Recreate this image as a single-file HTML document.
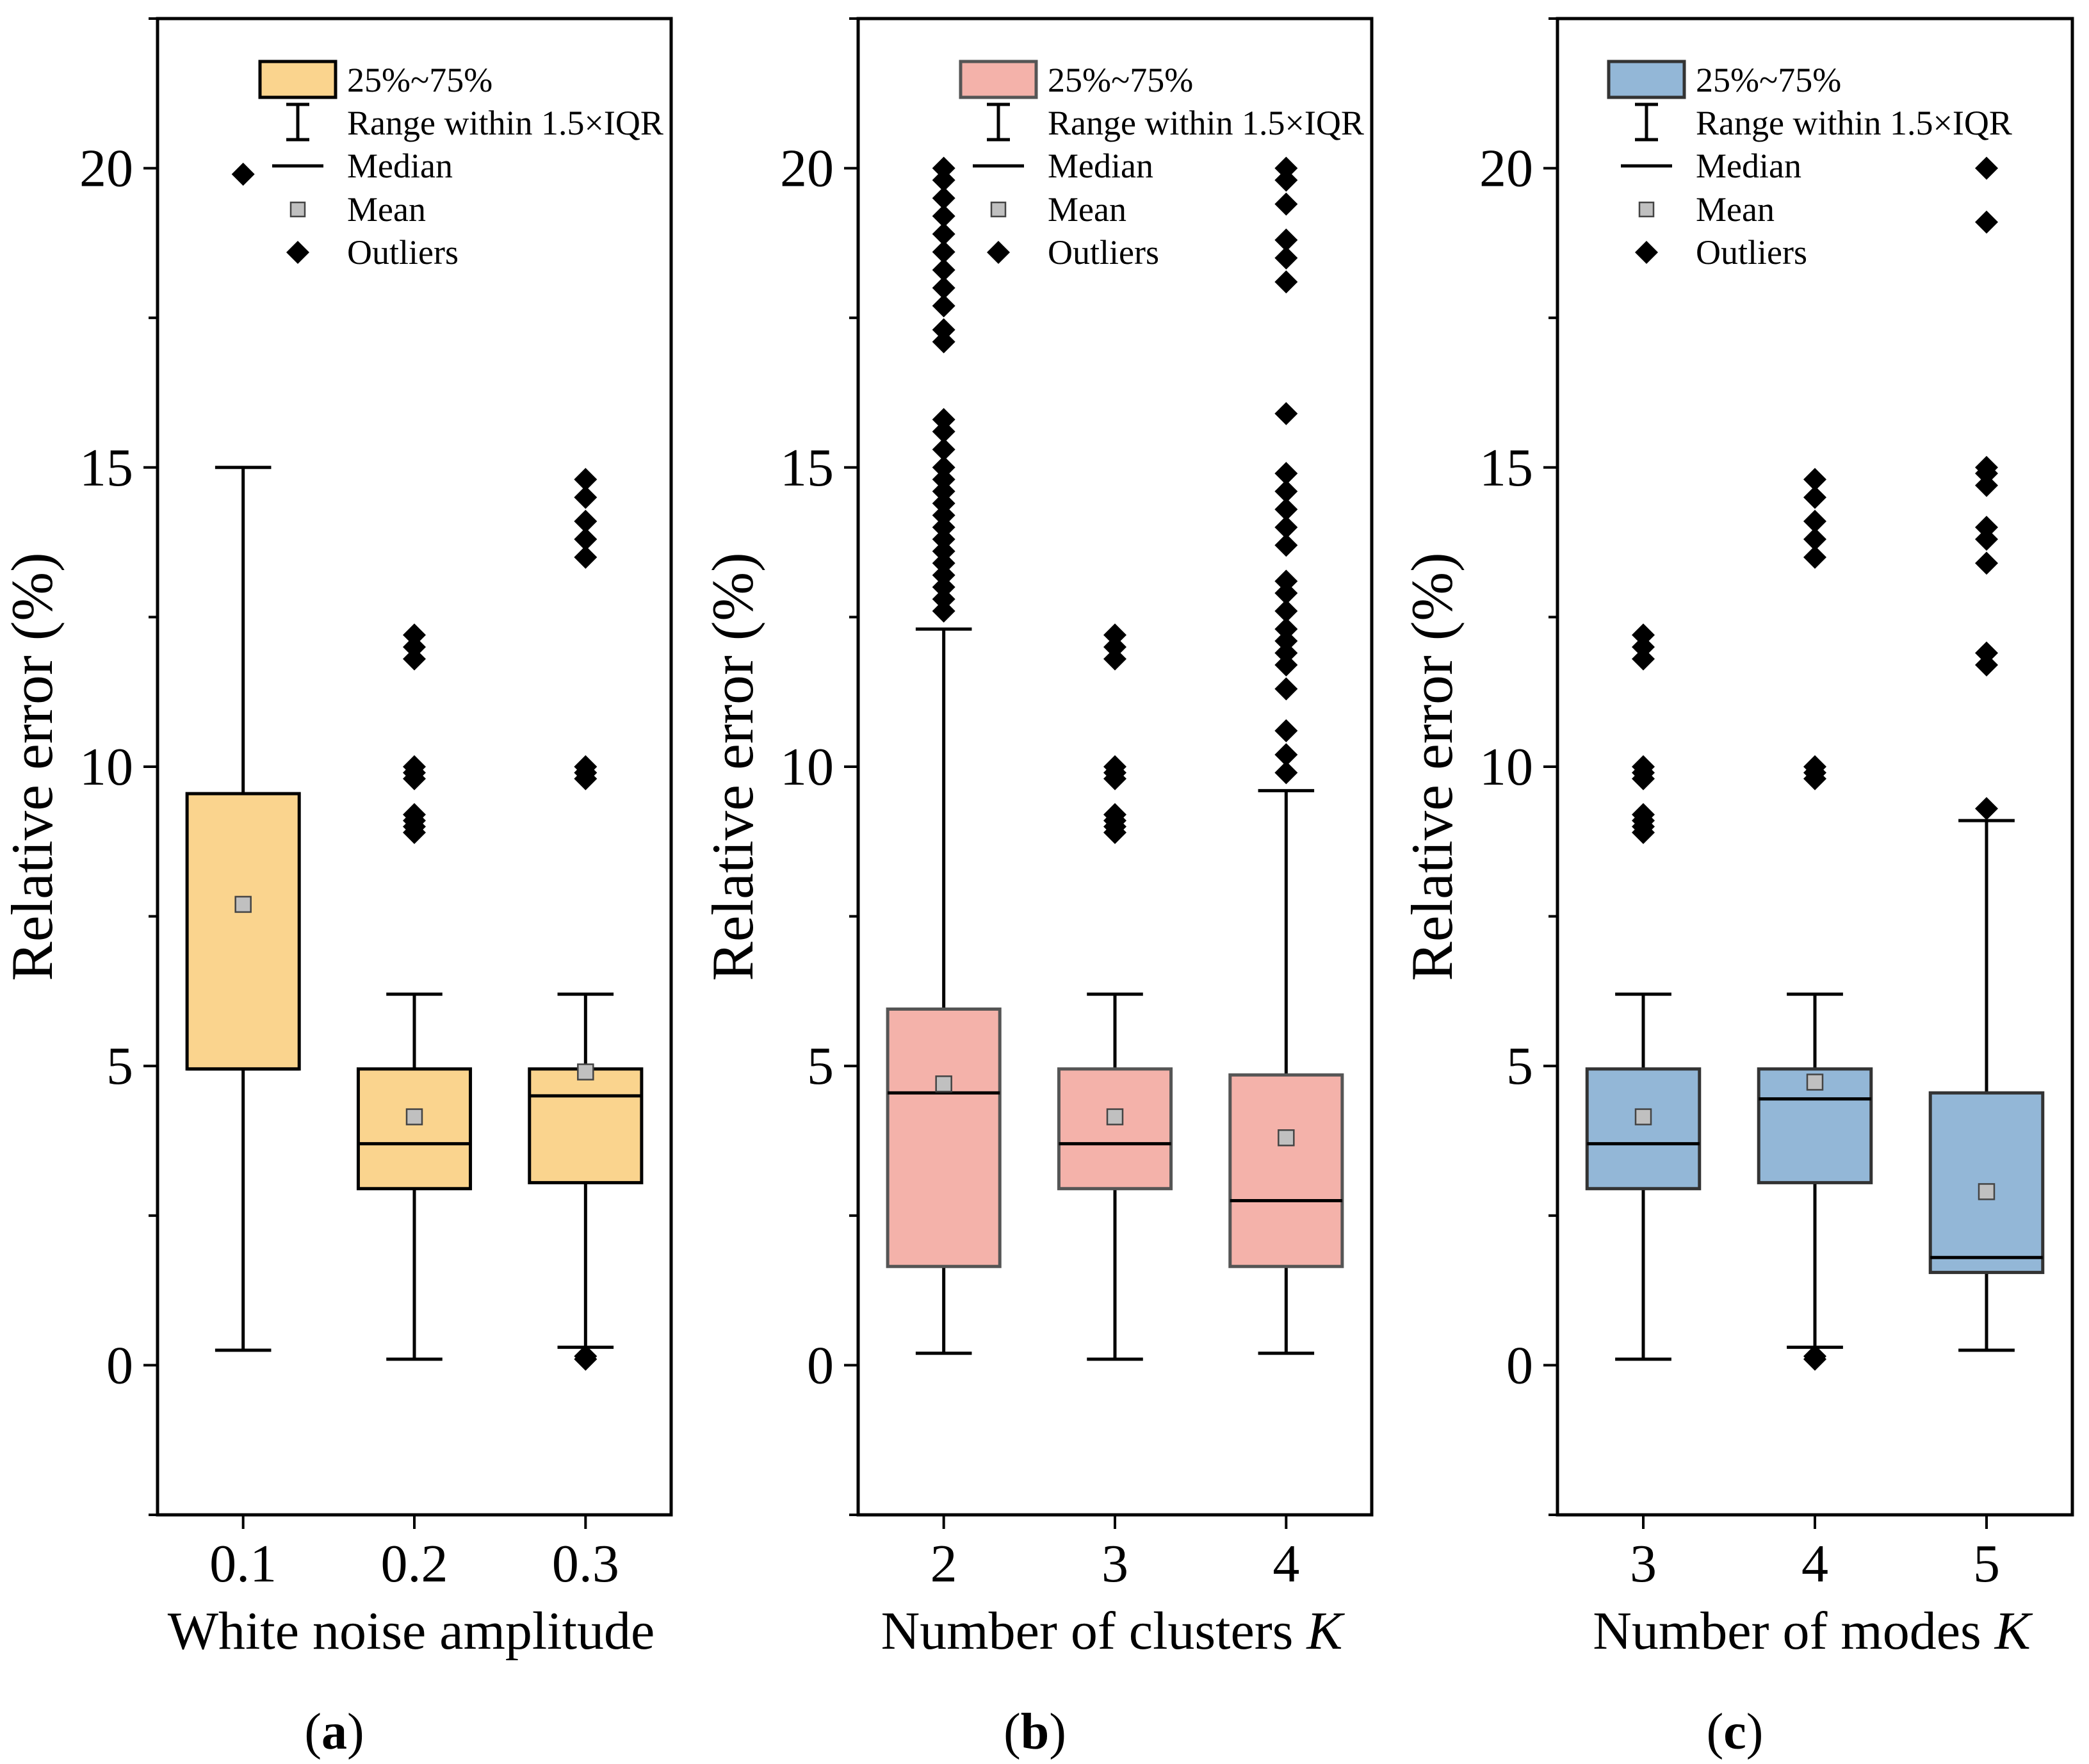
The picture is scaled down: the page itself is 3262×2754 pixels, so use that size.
<!DOCTYPE html>
<html><head><meta charset="utf-8">
<style>
html,body{margin:0;padding:0;background:#fff;}
svg{display:block;font-family:"Liberation Serif",serif;}
svg text{font-family:"Liberation Serif",serif;}
</style></head>
<body>
<svg id="chart" width="3262" height="2754" viewBox="0 0 3262 2754" xmlns="http://www.w3.org/2000/svg" font-family="Liberation Serif, serif"></svg>
<script>
// ---- data ----
const catsA = ["0.1","0.2","0.3"];
const catsB = ["2","3","4"];
const catsC = ["3","4","5"];
const yTicks = [0,5,10,15,20];
const q1A = [4.95,2.95,3.05], q3A=[9.55,4.95,4.95], medA=[4.95,3.7,4.5], meanA=[7.7,4.15,4.9], loA=[0.25,0.1,0.3], hiA=[15.0,6.2,6.2];
const outA = [[19.9],[8.9,9.0,9.1,9.2,9.8,9.9,10.0,11.8,12.0,12.2],[0.1,0.15,9.8,9.9,10.0,13.5,13.8,14.1,14.5,14.8]];
const q1B = [1.65,2.95,1.65], q3B=[5.95,4.95,4.85], medB=[4.55,3.7,2.75], meanB=[4.7,4.15,3.8], loB=[0.2,0.1,0.2], hiB=[12.3,6.2,9.6];
const outB = [[12.6,12.8,13.0,13.2,13.4,13.6,13.8,14.0,14.2,14.4,14.6,14.8,15.0,15.3,15.6,15.8,17.1,17.3,17.7,18.0,18.3,18.6,18.9,19.2,19.5,19.8,20.0],
  [8.9,9.0,9.1,9.2,9.8,9.9,10.0,11.8,12.0,12.2],
  [9.9,10.2,10.6,11.3,11.7,11.9,12.1,12.3,12.6,12.9,13.1,13.7,14.0,14.3,14.6,14.9,15.9,18.1,18.5,18.8,19.4,19.8,20.0]];
const q1C = [2.95,3.05,1.55], q3C=[4.95,4.95,4.55], medC=[3.7,4.45,1.8], meanC=[4.15,4.73,2.9], loC=[0.1,0.3,0.25], hiC=[6.2,6.2,9.1];
const outC = [[8.9,9.0,9.1,9.2,9.8,9.9,10.0,11.8,12.0,12.2],[0.1,0.15,9.8,9.9,10.0,13.5,13.8,14.1,14.5,14.8],[9.3,11.7,11.9,13.4,13.8,14.0,14.7,14.9,15.0,19.1,20.0]];

const NS="http://www.w3.org/2000/svg";
const svg=document.getElementById('chart');
const FF='"Liberation Serif", serif';
function mk(tag,attrs,parent,text){const e=document.createElementNS(NS,tag);for(const k in attrs)e.setAttribute(k,attrs[k]);if(tag==='text')e.style.fontFamily=FF;if(text!==undefined)e.textContent=text;(parent||svg).appendChild(e);return e;}

const TOP=29,BOT=2365,YMIN=-2.5,YMAX=22.5;
function yS(v){return BOT-(v-YMIN)/(YMAX-YMIN)*(BOT-TOP);}

function panel(key,left,right,cats,q1,q3,med,mean,lo,hi,outs,fill,stroke,xtitle,italicK,letter,legOff){
  const g=mk('g',{});
  
  
  const xS=i=>left+(i+0.5)*(right-left)/cats.length;
  const band=(right-left)/cats.length, bw=band*0.655, cw=bw*0.5;
  const fr=mk('rect',{x:left,y:TOP,width:right-left,height:BOT-TOP,fill:'none',stroke:'#000','stroke-width':5},g);
  
  
  for(let v=-2.5;v<=22.5;v+=2.5){
    const major=yTicks.includes(v);
    mk('line',{x1:left-(major?22:14),x2:left,y1:yS(v),y2:yS(v),stroke:'#000','stroke-width':4},g);
  }
  yTicks.forEach(v=>{
    const t=mk('text',{x:left-38,y:yS(v)+28,'text-anchor':'end','font-size':84},g,String(v));
    
    
  });
  const yt=mk('text',{transform:`translate(${left-165},${yS(10)}) rotate(-90)`,'text-anchor':'middle','font-size':92},g,'Relative error (%)');
  
  
  cats.forEach((c,i)=>{
    mk('line',{x1:xS(i),x2:xS(i),y1:BOT,y2:BOT+22,stroke:'#000','stroke-width':4},g);
    const t=mk('text',{x:xS(i),y:BOT+104,'text-anchor':'middle','font-size':84},g,c);
    
    
  });
  const xt=mk('text',{x:(left+right)/2-5,y:2574,'text-anchor':'middle','font-size':84},g);
  
  
  if(italicK){mk('tspan',{},xt,xtitle+' ');mk('tspan',{'font-style':'italic'},xt,'K');}else xt.textContent=xtitle;
  const lt=mk('text',{x:(left+right)/2-125,y:2730,'text-anchor':'middle','font-size':80},g);
  
  
  mk('tspan',{},lt,'(');mk('tspan',{'font-weight':'bold'},lt,letter);mk('tspan',{},lt,')');
  cats.forEach((c,i)=>{
    const x=xS(i);
    const bg=mk('g',{},g);
    
    
    mk('line',{x1:x,x2:x,y1:yS(hi[i]),y2:yS(q3[i]),stroke:'#000','stroke-width':5},bg);
    mk('line',{x1:x,x2:x,y1:yS(q1[i]),y2:yS(lo[i]),stroke:'#000','stroke-width':5},bg);
    mk('line',{x1:x-cw/2,x2:x+cw/2,y1:yS(hi[i]),y2:yS(hi[i]),stroke:'#000','stroke-width':5},bg);
    mk('line',{x1:x-cw/2,x2:x+cw/2,y1:yS(lo[i]),y2:yS(lo[i]),stroke:'#000','stroke-width':5},bg);
    mk('rect',{x:x-bw/2,y:yS(q3[i]),width:bw,height:yS(q1[i])-yS(q3[i]),fill:fill,stroke:stroke,'stroke-width':5},bg);
    mk('line',{x1:x-bw/2,x2:x+bw/2,y1:yS(med[i]),y2:yS(med[i]),stroke:'#000','stroke-width':5},bg);
    outs[i].forEach(v=>{
      const y=yS(v),s=18;
      const d=mk('path',{d:`M${x} ${y-s}L${x+s} ${y}L${x} ${y+s}L${x-s} ${y}Z`,fill:'#000'},bg);
      
      
    });
    const m=mk('rect',{x:x-12,y:yS(mean[i])-12,width:24,height:24,fill:'#c0c0c0',stroke:'#444','stroke-width':2.5},bg);
    
    
  });
  const lg=mk('g',{},g);
  
  
  const lx=left+legOff, tx=lx+136, ys=[125,192,259,327,394];
  mk('rect',{x:lx,y:96,width:118,height:56,fill:fill,stroke:stroke,'stroke-width':5},lg);
  const cx=lx+59;
  mk('line',{x1:cx,x2:cx,y1:163,y2:218,stroke:'#000','stroke-width':5},lg);
  mk('line',{x1:cx-18,x2:cx+18,y1:163,y2:163,stroke:'#000','stroke-width':5},lg);
  mk('line',{x1:cx-18,x2:cx+18,y1:218,y2:218,stroke:'#000','stroke-width':5},lg);
  mk('line',{x1:cx-40,x2:cx+40,y1:ys[2],y2:ys[2],stroke:'#000','stroke-width':5},lg);
  mk('rect',{x:cx-11,y:ys[3]-11,width:22,height:22,fill:'#c0c0c0',stroke:'#444','stroke-width':2.5},lg);
  mk('path',{d:`M${cx} ${ys[4]-18}L${cx+18} ${ys[4]}L${cx} ${ys[4]+18}L${cx-18} ${ys[4]}Z`,fill:'#000'},lg);
  ["25%~75%","Range within 1.5×IQR","Median","Mean","Outliers"].forEach((s,k)=>{
    const t=mk('text',{x:tx,y:ys[k]+18,'font-size':54},lg,s);
    
    
  });
}
panel('a',246,1048,catsA,q1A,q3A,medA,meanA,loA,hiA,outA,'#fad48e','#000','White noise amplitude',false,'a',160);
panel('b',1340,2142,catsB,q1B,q3B,medB,meanB,loB,hiB,outB,'#f4b2aa','#555','Number of clusters',true,'b',160);
panel('c',2432,3236,catsC,q1C,q3C,medC,meanC,loC,hiC,outC,'#93b7d7','#333','Number of modes',true,'c',80);
</script>
</body></html>
